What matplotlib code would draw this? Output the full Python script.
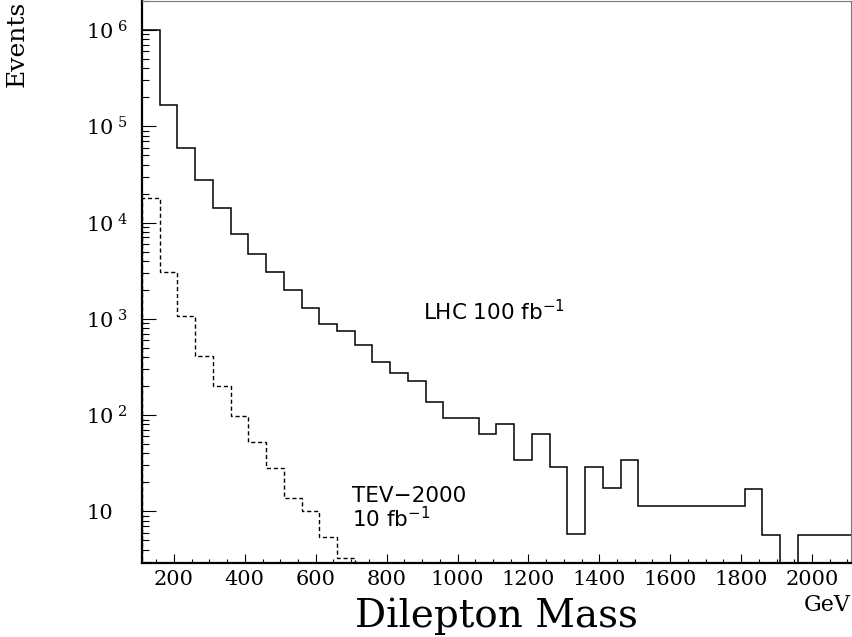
import numpy as np
import matplotlib
matplotlib.use("Agg")
import matplotlib.pyplot as plt
from matplotlib.ticker import MultipleLocator, LogLocator, NullFormatter

# bin edges: 50 GeV bins from 110 to 2110 GeV
bin_lo = 110
bin_width = 50
n_bins = 40

# LHC 100 fb-1 (solid)
lhc = [1.0e6, 1.67e5, 5.9e4, 2.75e4, 1.4e4, 7.6e3, 4.7e3, 3.1e3, 1.97e3, 1.29e3,
       885, 740, 530, 357, 277, 226, 137, 93, 93, 63,
       80, 34, 63, 28.6, 5.8, 28.6, 17.3, 34.3, 11.4, 11.4,
       11.4, 11.4, 11.4, 11.4, 17.2, 5.7, 0, 5.7, 5.7, 5.7]

# TEV-2000 10 fb-1 (dashed)
tev = [1.81e4, 3060, 1080, 408, 201, 99, 52, 27.9, 13.8, 10.1, 5.45, 3.25]

xticks = [200, 400, 600, 800, 1000, 1200, 1400, 1600, 1800, 2000]
yticks = [10, 1e2, 1e3, 1e4, 1e5, 1e6]
ytick_labels = ["10", r"$10^{\ 2}$", r"$10^{\ 3}$", r"$10^{\ 4}$", r"$10^{\ 5}$", r"$10^{\ 6}$"]

plt.rcParams["font.family"] = "DejaVu Serif"
plt.rcParams["mathtext.fontset"] = "dejavuserif"

edges = bin_lo + bin_width * np.arange(n_bins + 1)

fig = plt.figure(figsize=(8.52, 6.37), dpi=100)
ax = fig.add_axes([142 / 852, 1 - 563 / 637, 709 / 852, 562 / 637])

ax.set_yscale("log", nonpositive="clip")
ax.stairs(lhc, edges, color="black", lw=1.1, baseline=None)
ax.stairs(tev, edges[:len(tev) + 1], color="black", lw=1.0,
          linestyle=(0, (3, 2)), baseline=0.5)

ax.set_xlim(110, 2110)
ax.set_ylim(2.91, 2.0e6)

ax.set_xticks(xticks)
ax.set_xticklabels([str(v) for v in xticks])
ax.xaxis.set_minor_locator(MultipleLocator(50))
ax.set_yticks(yticks)
ax.set_yticklabels(ytick_labels)
ax.yaxis.set_minor_locator(LogLocator(base=10, subs=np.arange(2, 10)))
ax.yaxis.set_minor_formatter(NullFormatter())

ax.tick_params(axis="x", which="major", direction="in", length=6.5, width=0.8,
               labelsize=15, pad=5)
ax.tick_params(axis="x", which="minor", direction="in", length=3, width=0.8)
ax.tick_params(axis="y", which="major", direction="in", length=10, width=0.8,
               labelsize=15, pad=40)
ax.tick_params(axis="y", which="minor", direction="in", length=5, width=0.8)
for lab in ax.get_yticklabels():
    lab.set_horizontalalignment("left")

for side in ["left", "bottom"]:
    ax.spines[side].set_linewidth(1.6)
    ax.spines[side].set_color("black")
for side in ["top", "right"]:
    ax.spines[side].set_linewidth(0.8)
    ax.spines[side].set_color("#777777")

ax.text(902, 964, r"LHC 100 fb$^{-1}$", fontsize=15.5, family="DejaVu Sans",
        math_fontfamily="dejavusans", va="baseline", ha="left")
ax.text(701, 12.6, "TEV\u22122000", fontsize=15.5, family="DejaVu Sans",
        va="baseline", ha="left")
ax.text(701, 6.92, r"10 fb$^{-1}$", fontsize=15.5, family="DejaVu Sans",
        math_fontfamily="dejavusans", va="baseline", ha="left")

fig.text(496.5 / 852, 1 - 627 / 637, "Dilepton Mass", fontsize=28,
         ha="center", va="baseline")
fig.text(851 / 852, 1 - 611 / 637, "GeV", fontsize=16, ha="right", va="baseline")
fig.text(6 / 852, 1 - 1 / 637, "Events", fontsize=18, rotation=90,
         ha="left", va="top")

fig.savefig("out.png", dpi=100)
